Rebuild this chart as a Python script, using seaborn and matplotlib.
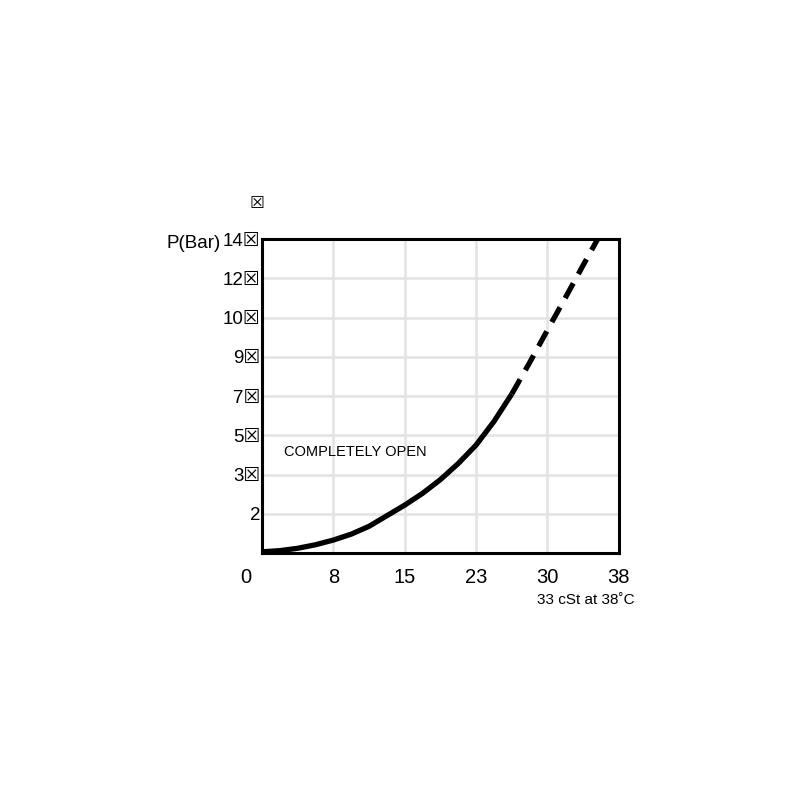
import numpy as np
import pandas as pd
import matplotlib
matplotlib.use("Agg")
import matplotlib.pyplot as plt
import matplotlib.transforms as mtransforms
import seaborn as sns

# tick labels (grid is evenly spaced, labels are not)
flow_labels = ['0', '8', '15', '23', '30', '38']
pressure_labels = ['', '2', '3☒', '5☒', '7☒', '9☒', '10☒', '12☒', '14☒']

# curve, in grid units
solid_x = [0.0, 0.25, 0.5, 0.75, 1.0, 1.25, 1.5, 1.75, 2.0, 2.25, 2.5, 2.75, 3.0, 3.25, 3.5]
solid_y = [0.03, 0.06, 0.12, 0.21, 0.33, 0.48, 0.68, 0.95, 1.22, 1.52, 1.87, 2.28, 2.75, 3.35, 4.05]
dashed_x = [3.5, 3.75, 4.0, 4.25, 4.5, 4.72]
dashed_y = [4.05, 4.85, 5.68, 6.5, 7.33, 8.05]

sns.set_style("white")
plt.rcParams['font.family'] = ['Liberation Sans', 'DejaVu Sans']
plt.rcParams['text.color'] = 'black'

fig = plt.figure(figsize=(8, 8), dpi=100)
ax = fig.add_axes([0.3275, 0.30875, 0.446, 0.3925])

df_solid = pd.DataFrame({'x': solid_x, 'y': solid_y})
df_dash = pd.DataFrame({'x': dashed_x, 'y': dashed_y})
sns.lineplot(data=df_solid, x='x', y='y', ax=ax, color='black', linewidth=3.8,
             sort=False, solid_capstyle='butt')
sns.lineplot(data=df_dash, x='x', y='y', ax=ax, color='black', linewidth=3.8,
             sort=False)
ax.lines[-1].set_dashes([3.2, 2.0])

ax.set_xlim(0, 5)
ax.set_ylim(0, 8)
ax.set_xticks(range(len(flow_labels)))
ax.set_xticklabels(flow_labels, fontsize=14.5)
ax.set_yticks(range(len(pressure_labels)))
ax.set_yticklabels(pressure_labels, fontsize=13.5)
ax.tick_params(length=0, labelcolor='black')
ax.tick_params(axis='x', pad=11)
ax.tick_params(axis='y', pad=1)

# first x label sits left of the axis
lbl0 = ax.get_xticklabels()[0]
lbl0.set_transform(lbl0.get_transform() + mtransforms.ScaledTranslation(-16 / 100, 0, fig.dpi_scale_trans))

ax.grid(True, color='#e3e3e3', linewidth=1.8)
ax.set_axisbelow(True)
for s in ax.spines.values():
    s.set_color('black')
    s.set_linewidth(2.2)

ax.set_xlabel('')
ax.set_ylabel('')

fig.text(0.2425, 0.696, 'P(Bar)', fontsize=13.5, ha='center', va='center')
fig.text(0.321, 0.745, '☒', fontsize=12, ha='center', va='center')
fig.text(0.7325, 0.25, '33 cSt at 38˚C', fontsize=11, ha='center', va='center')
ax.text(1.31, 2.57, 'COMPLETELY OPEN', fontsize=10.5, ha='center', va='center')

fig.savefig('out.png', dpi=100)
